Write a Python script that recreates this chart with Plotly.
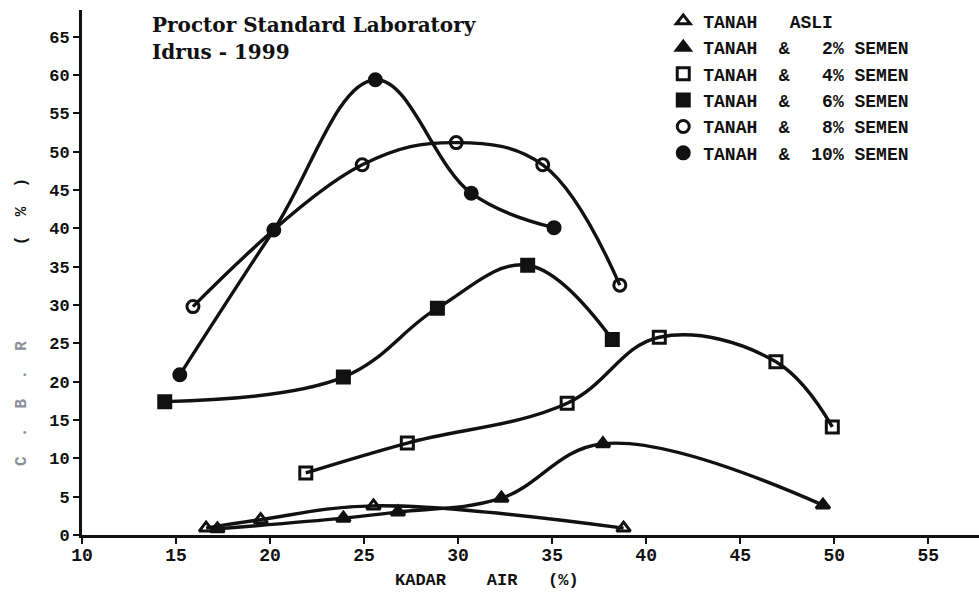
import plotly.graph_objects as go

# ---- data ----
x_asli = [16.6, 19.5, 25.5, 38.8]
y_asli = [0.9, 2.0, 3.8, 0.9]

x_s2 = [17.2, 23.9, 26.8, 32.3, 37.7, 49.4]
y_s2 = [0.8, 2.2, 3.0, 4.8, 11.9, 3.9]

x_s4 = [21.9, 27.3, 35.8, 40.7, 46.9, 49.9]
y_s4 = [8.1, 12.0, 17.2, 25.8, 22.6, 14.1]

x_s6 = [14.4, 23.9, 28.9, 33.7, 38.2]
y_s6 = [17.4, 20.6, 29.6, 35.2, 25.5]

x_s8 = [15.9, 24.9, 29.9, 34.5, 38.6]
y_s8 = [29.8, 48.3, 51.2, 48.3, 32.6]

x_s10 = [15.2, 20.2, 25.6, 30.7, 35.1]
y_s10 = [20.9, 39.8, 59.4, 44.6, 40.1]

NB = "\u00a0"
series = [
    ("TANAH" + NB * 3 + "ASLI", x_asli, y_asli, "triangle-up-open"),
    ("TANAH" + NB * 2 + "&" + NB * 3 + "2%" + NB + "SEMEN", x_s2, y_s2, "triangle-up"),
    ("TANAH" + NB * 2 + "&" + NB * 3 + "4%" + NB + "SEMEN", x_s4, y_s4, "square-open"),
    ("TANAH" + NB * 2 + "&" + NB * 3 + "6%" + NB + "SEMEN", x_s6, y_s6, "square"),
    ("TANAH" + NB * 2 + "&" + NB * 3 + "8%" + NB + "SEMEN", x_s8, y_s8, "circle-open"),
    ("TANAH" + NB * 2 + "&" + NB * 2 + "10%" + NB + "SEMEN", x_s10, y_s10, "circle"),
]

x_ticks = [10, 15, 20, 25, 30, 35, 40, 45, 50, 55]
y_ticks = [0, 5, 10, 15, 20, 25, 30, 35, 40, 45, 50, 55, 60, 65]

MONO = "Liberation Mono"
fig = go.Figure()

for name, xs, ys, sym in series:
    fig.add_trace(go.Scatter(
        x=xs, y=ys, mode="lines",
        line=dict(color="#111111", width=3.4, shape="spline", smoothing=1.1),
        showlegend=False, hoverinfo="skip"))
for name, xs, ys, sym in series:
    fig.add_trace(go.Scatter(
        x=xs, y=ys, mode="markers", name=name,
        marker=dict(symbol=sym, size=12, color="#111111",
                    line=dict(color="#111111", width=3))))

fig.update_layout(
    width=979, height=602,
    margin=dict(l=82, r=0, t=10, b=67),
    paper_bgcolor="white", plot_bgcolor="white",
    font=dict(family=MONO, color="#111111", size=17, weight="bold"),
    showlegend=True,
    legend=dict(x=0.648, y=1.014, xanchor="left", yanchor="top",
                bgcolor="rgba(0,0,0,0)", borderwidth=0,
                font=dict(family=MONO, size=18, color="#111111", weight="bold"),
                itemwidth=30, tracegroupgap=0),
    xaxis=dict(range=[10, 57.7], tickvals=x_ticks, ticktext=[str(v) for v in x_ticks],
               showgrid=False, zeroline=False, showline=True, linecolor="#111111",
               linewidth=3, ticks="outside", ticklen=6, tickwidth=2, tickcolor="#111111",
               ticklabelstandoff=-5,
               tickfont=dict(family=MONO, size=18, weight="bold")),
    yaxis=dict(range=[0, 68.5], tickvals=y_ticks, ticktext=[str(v) for v in y_ticks],
               showgrid=False, zeroline=False, showline=True, linecolor="#111111",
               linewidth=3, ticks="outside", ticklen=6, tickwidth=2, tickcolor="#111111",
               tickfont=dict(family=MONO, size=17, weight="bold")),
)

# title block (two lines)
fig.add_annotation(
    xref="paper", yref="paper", x=(150 - 82) / 897, y=(535 - 25) / 525,
    xanchor="left", yanchor="middle", align="left", showarrow=False,
    text="Proctor Standard Laboratory",
    font=dict(family="DejaVu Serif", size=20, color="#111111", weight="bold"))
fig.add_annotation(
    xref="paper", yref="paper", x=(150 - 82) / 897, y=(535 - 52) / 525,
    xanchor="left", yanchor="middle", align="left", showarrow=False,
    text="Idrus - 1999",
    font=dict(family="DejaVu Serif", size=20, color="#111111", weight="bold"))

# axis titles
fig.add_annotation(
    xref="paper", yref="paper", x=(487 - 82) / 897, y=-(580 - 535) / 525,
    xanchor="center", yanchor="middle", showarrow=False,
    text="KADAR" + NB * 4 + "AIR" + NB * 3 + "(%)",
    font=dict(family=MONO, size=17, color="#111111", weight="bold"))

fig.add_annotation(
    xref="paper", yref="paper", x=-(82 - 22) / 897, y=(535 - 322) / 525,
    xanchor="center", yanchor="middle", showarrow=False, textangle=-90,
    text='<span style="color:#8a8f9a">C' + NB * 2 + "." + NB * 2 + "B" + NB * 2 + "." + NB * 2 + "R</span>"
         + NB * 10 + "(" + NB * 2 + "%" + NB * 2 + ")",
    font=dict(family=MONO, size=16, color="#111111", weight="bold"))

fig.write_html("out.html")
